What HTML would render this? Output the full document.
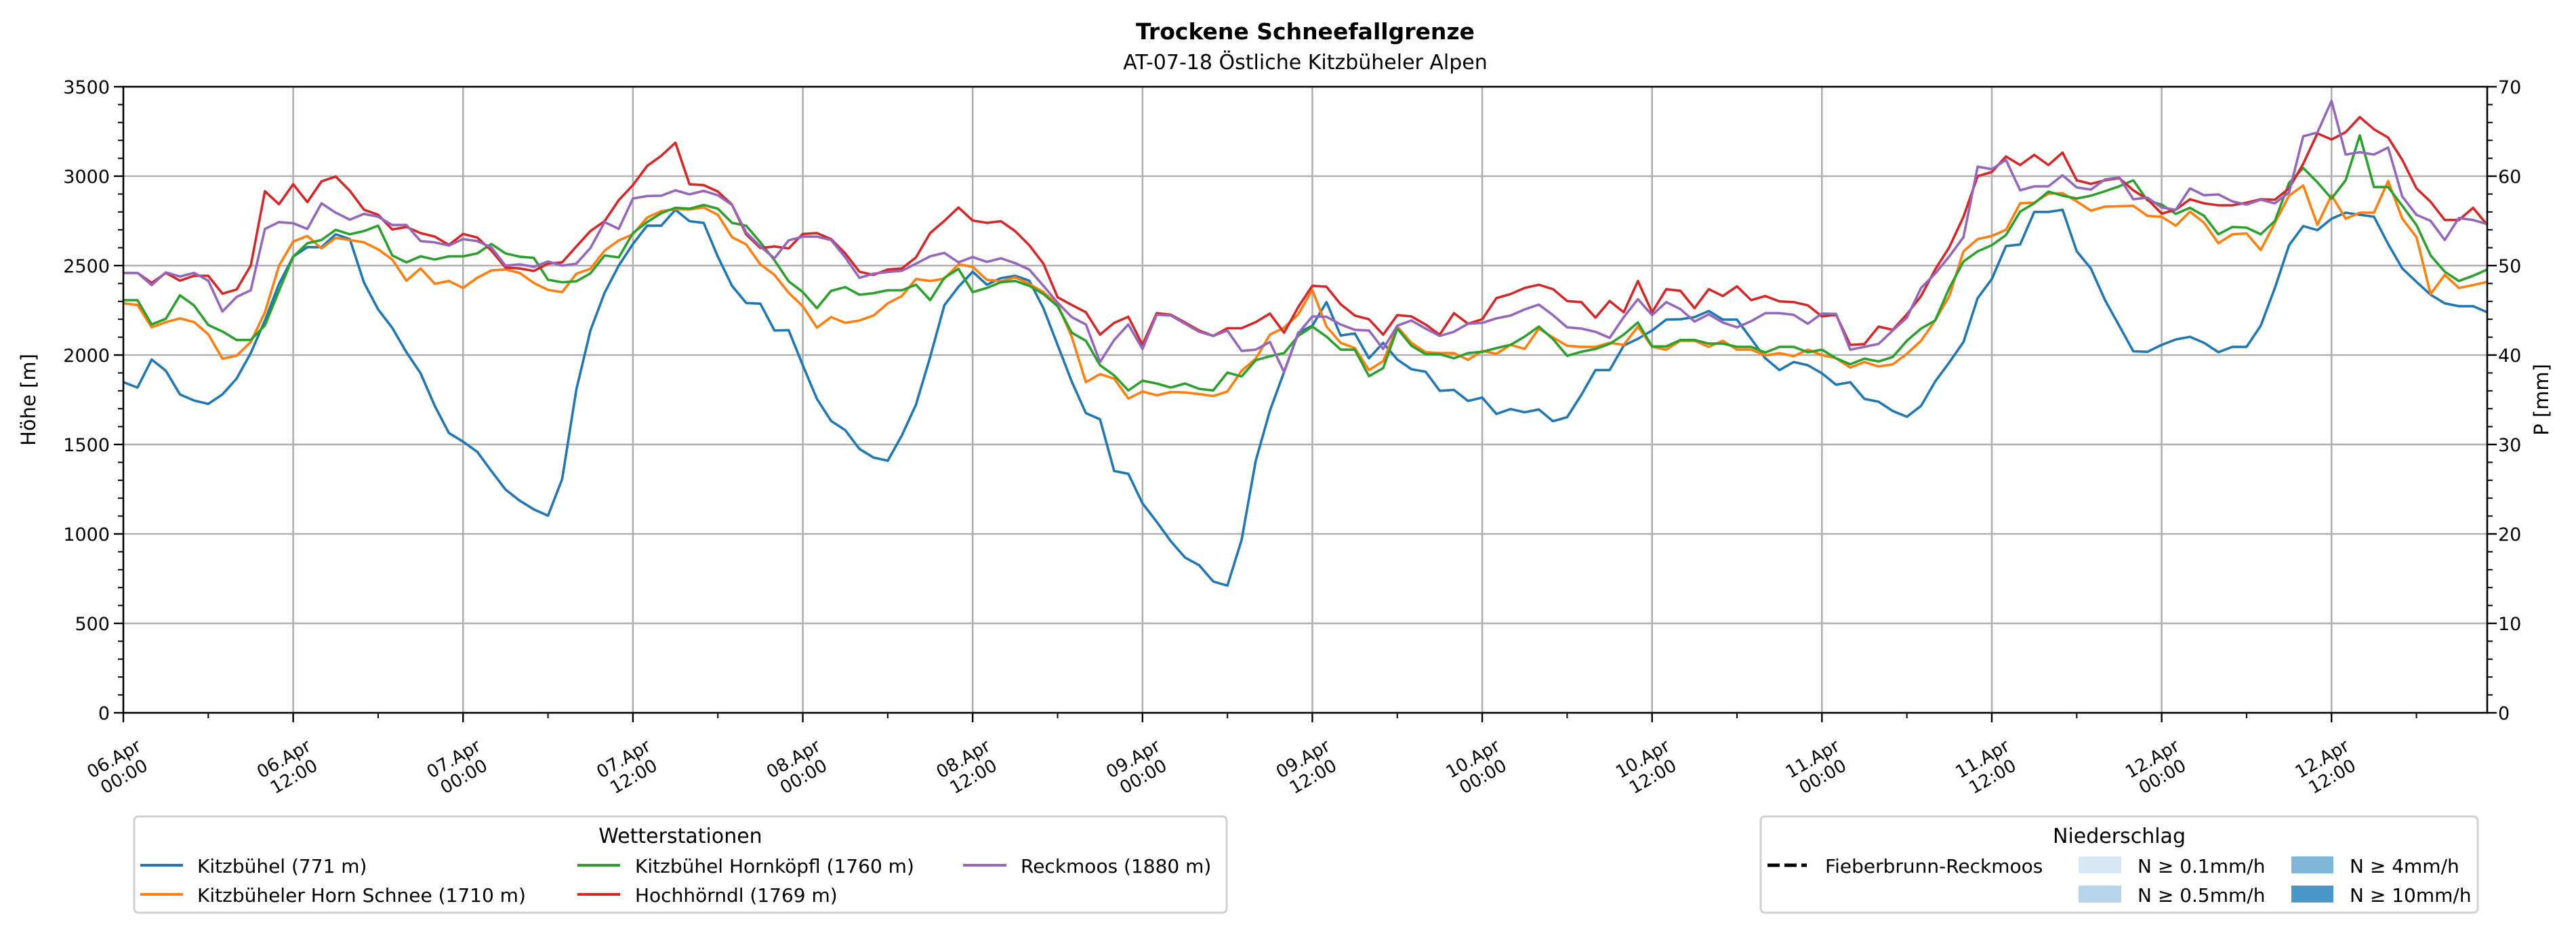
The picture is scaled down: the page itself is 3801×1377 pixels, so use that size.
<!DOCTYPE html>
<html><head><meta charset="utf-8"><style>
html,body{margin:0;padding:0;background:#fff;}
svg{display:block;font-family:"DejaVu Sans","Liberation Sans",sans-serif;}
</style></head><body>
<svg id="chart" width="3801" height="1377" viewBox="0 0 3801 1377" xmlns="http://www.w3.org/2000/svg">
<rect x="0" y="0" width="3801" height="1377" fill="#fff"/>
<text x="1926" y="58" text-anchor="middle" font-size="33" font-weight="bold">Trockene Schneefallgrenze</text>
<text x="1926" y="102" text-anchor="middle" font-size="30">AT-07-18 Östliche Kitzbüheler Alpen</text>
<g id="grid"></g>
<g id="series"></g>
<g id="axes"></g>
<text transform="translate(52,590) rotate(-90)" text-anchor="middle" font-size="29">Höhe [m]</text>
<text transform="translate(3760,590) rotate(-90)" text-anchor="middle" font-size="29">P [mm]</text>

<g>
<rect x="198" y="1205" width="1612" height="142" rx="6" fill="#fff" stroke="#d0d0d0" stroke-width="3"/>
<text x="1004" y="1244" text-anchor="middle" font-size="30">Wetterstationen</text>
<g><line x1="207" y1="1277" x2="270" y2="1277" stroke="#1f77b4" stroke-width="4"/><text x="291" y="1288" font-size="28">Kitzbühel (771 m)</text></g>
<g><line x1="207" y1="1320" x2="270" y2="1320" stroke="#ff7f0e" stroke-width="4"/><text x="291" y="1331" font-size="28">Kitzbüheler Horn Schnee (1710 m)</text></g>
<g><line x1="852" y1="1277" x2="915" y2="1277" stroke="#2ca02c" stroke-width="4"/><text x="937" y="1288" font-size="28">Kitzbühel Hornköpfl (1760 m)</text></g>
<g><line x1="852" y1="1320" x2="915" y2="1320" stroke="#d62728" stroke-width="4"/><text x="937" y="1331" font-size="28">Hochhörndl (1769 m)</text></g>
<g><line x1="1421" y1="1277" x2="1485" y2="1277" stroke="#9467bd" stroke-width="4"/><text x="1506" y="1288" font-size="28">Reckmoos (1880 m)</text></g>
</g>

<g>
<rect x="2598" y="1205" width="1058" height="142" rx="6" fill="#fff" stroke="#d0d0d0" stroke-width="3"/>
<text x="3127" y="1244" text-anchor="middle" font-size="30">Niederschlag</text>
<g><line x1="2608" y1="1277" x2="2666" y2="1277" stroke="#000" stroke-width="5" stroke-dasharray="18,7"/><text x="2693" y="1288" font-size="28">Fieberbrunn-Reckmoos</text></g>
<g><rect x="3067" y="1264" width="63" height="25" fill="#d7e7f5"/><text x="3154" y="1288" font-size="28">N ≥ 0.1mm/h</text></g>
<g><rect x="3067" y="1307" width="63" height="25" fill="#b7d4ea"/><text x="3154" y="1331" font-size="28">N ≥ 0.5mm/h</text></g>
<g><rect x="3381" y="1264" width="62" height="25" fill="#7fb6d9"/><text x="3467" y="1288" font-size="28">N ≥ 4mm/h</text></g>
<g><rect x="3381" y="1307" width="62" height="25" fill="#4a98c9"/><text x="3467" y="1331" font-size="28">N ≥ 10mm/h</text></g>
</g>
</svg>
<script>
const seriesNames = ["Kitzbühel (771 m)","Kitzbüheler Horn Schnee (1710 m)","Kitzbühel Hornköpfl (1760 m)","Hochhörndl (1769 m)","Reckmoos (1880 m)"];
const seriesColors = ["#1f77b4","#ff7f0e","#2ca02c","#d62728","#9467bd"];
const xTickLabels = ["06.Apr\n00:00","06.Apr\n12:00","07.Apr\n00:00","07.Apr\n12:00","08.Apr\n00:00","08.Apr\n12:00","09.Apr\n00:00","09.Apr\n12:00","10.Apr\n00:00","10.Apr\n12:00","11.Apr\n00:00","11.Apr\n12:00","12.Apr\n00:00","12.Apr\n12:00"];
const yTicks = [0,500,1000,1500,2000,2500,3000,3500];
const y2Ticks = [0,10,20,30,40,50,60,70];
const kitzbuehel = [1848,1818,1975,1912,1780,1746,1727,1780,1868,2011,2193,2398,2550,2603,2603,2675,2648,2405,2255,2152,2016,1898,1716,1564,1516,1459,1352,1248,1186,1137,1102,1307,1807,2137,2348,2500,2621,2723,2723,2812,2748,2739,2550,2387,2291,2287,2137,2139,1943,1755,1632,1580,1475,1427,1409,1550,1723,1989,2278,2382,2466,2393,2430,2443,2416,2262,2057,1852,1675,1641,1352,1336,1171,1068,959,868,825,734,711,966,1409,1689,1905,2125,2164,2296,2109,2121,1982,2068,1975,1921,1907,1800,1805,1743,1762,1671,1698,1680,1696,1630,1653,1777,1916,1916,2053,2091,2137,2198,2200,2212,2246,2198,2198,2091,1982,1916,1961,1943,1898,1834,1848,1755,1739,1687,1655,1716,1852,1959,2073,2318,2425,2609,2618,2800,2800,2812,2580,2484,2307,2164,2021,2018,2057,2087,2102,2068,2016,2046,2046,2164,2375,2614,2721,2698,2762,2796,2784,2773,2621,2484,2409,2337,2289,2273,2273,2239];
const hornSchnee = [2289,2280,2155,2184,2205,2184,2116,1980,1996,2073,2239,2500,2634,2666,2596,2655,2643,2630,2591,2534,2416,2484,2398,2414,2375,2432,2473,2478,2459,2403,2364,2352,2455,2482,2584,2641,2675,2768,2805,2816,2814,2825,2784,2659,2618,2507,2448,2348,2273,2153,2212,2180,2193,2221,2289,2330,2425,2414,2427,2507,2493,2421,2412,2434,2398,2352,2284,2102,1848,1893,1868,1757,1796,1775,1793,1791,1782,1771,1796,1912,1980,2114,2153,2228,2364,2159,2068,2039,1916,1966,2159,2068,2016,2011,2011,1973,2023,2007,2057,2034,2148,2098,2052,2046,2046,2068,2057,2159,2046,2030,2080,2080,2046,2080,2030,2030,1998,2011,1993,2030,2000,1982,1930,1961,1936,1948,2007,2080,2193,2330,2580,2648,2666,2700,2848,2852,2902,2905,2859,2807,2830,2832,2834,2778,2773,2723,2802,2739,2625,2675,2680,2587,2739,2891,2948,2728,2893,2762,2796,2796,2973,2762,2659,2341,2448,2375,2391,2409];
const hornkoepfl = [2307,2307,2171,2203,2334,2277,2168,2132,2084,2084,2166,2359,2550,2625,2643,2700,2675,2693,2723,2557,2518,2552,2534,2552,2552,2568,2621,2568,2550,2543,2421,2407,2412,2457,2557,2546,2682,2743,2793,2823,2818,2839,2818,2739,2723,2630,2530,2412,2352,2262,2359,2380,2337,2346,2362,2362,2393,2307,2432,2482,2352,2375,2407,2414,2387,2341,2273,2125,2080,1943,1886,1802,1857,1841,1818,1841,1811,1802,1902,1880,1971,1993,2011,2107,2159,2103,2030,2030,1882,1927,2148,2052,2005,2005,1982,2011,2018,2039,2057,2103,2159,2089,1996,2018,2034,2062,2114,2182,2048,2048,2084,2084,2064,2064,2046,2046,2014,2046,2046,2016,2030,1982,1948,1980,1964,1989,2080,2148,2193,2375,2523,2580,2614,2671,2802,2848,2914,2891,2875,2891,2916,2943,2977,2864,2841,2789,2823,2778,2675,2716,2712,2675,2750,2962,3046,2966,2875,2977,3228,2939,2939,2834,2727,2557,2466,2414,2443,2478];
const hochhoerndl = [2459,2459,2403,2459,2416,2443,2443,2343,2366,2500,2916,2843,2955,2855,2971,2998,2918,2812,2784,2702,2716,2682,2662,2616,2677,2657,2584,2489,2484,2470,2511,2518,2607,2693,2748,2866,2950,3057,3114,3187,2955,2950,2914,2841,2675,2598,2607,2596,2677,2682,2648,2568,2466,2448,2478,2484,2546,2682,2750,2825,2752,2739,2748,2693,2614,2511,2323,2280,2239,2114,2180,2214,2057,2234,2225,2182,2137,2107,2150,2150,2184,2232,2125,2268,2387,2382,2284,2221,2200,2114,2223,2216,2171,2114,2234,2175,2200,2318,2341,2375,2393,2368,2302,2296,2209,2302,2239,2414,2239,2368,2359,2262,2368,2330,2384,2307,2330,2300,2296,2278,2216,2225,2057,2061,2159,2141,2228,2330,2478,2603,2773,3000,3023,3110,3062,3119,3062,3132,2977,2957,2977,2989,2921,2871,2791,2812,2871,2848,2837,2837,2852,2871,2868,2932,3069,3239,3205,3246,3330,3262,3216,3091,2932,2857,2755,2755,2823,2728];
const reckmoos = [2459,2459,2391,2462,2439,2459,2416,2243,2325,2362,2705,2743,2737,2705,2848,2796,2757,2789,2773,2727,2727,2637,2630,2612,2648,2637,2602,2500,2507,2493,2523,2500,2511,2598,2743,2705,2875,2889,2891,2921,2898,2918,2893,2839,2686,2607,2541,2641,2662,2662,2643,2546,2432,2455,2464,2471,2511,2552,2571,2518,2548,2521,2541,2514,2478,2387,2293,2212,2171,1961,2084,2171,2034,2225,2221,2175,2130,2107,2137,2023,2030,2073,1905,2121,2216,2214,2171,2141,2137,2034,2164,2193,2148,2107,2130,2175,2180,2205,2221,2255,2282,2223,2155,2148,2130,2096,2212,2312,2223,2296,2257,2187,2228,2182,2155,2189,2234,2234,2225,2175,2232,2230,2030,2046,2062,2137,2209,2375,2455,2552,2659,3053,3039,3091,2921,2943,2943,3005,2937,2925,2982,2993,2871,2880,2825,2812,2932,2893,2898,2859,2841,2868,2848,2909,3223,3244,3421,3121,3134,3121,3160,2886,2784,2750,2643,2766,2755,2732];
const allSeries = [kitzbuehel,hornSchnee,hornkoepfl,hochhoerndl,reckmoos];

const NS="http://www.w3.org/2000/svg";
const L=182,R=3670,T=128,B=1052,yMax=3500,y2Max=70;
const nHours = kitzbuehel.length;
const xScale = h => L + h*(R-L)/(nHours-1);
const yScale = v => B - v*(B-T)/yMax;
const y2Scale = v => B - v*(B-T)/y2Max;
function mk(tag,attrs,parent){const e=document.createElementNS(NS,tag);for(const k in attrs)e.setAttribute(k,attrs[k]);parent.appendChild(e);return e;}
const grid=document.getElementById('grid'),axes=document.getElementById('axes'),ser=document.getElementById('series');
yTicks.forEach(v=>{
  const y=yScale(v);
  if(v>0&&v<yMax){const g=mk('line',{x1:L,x2:R,y1:y,y2:y,stroke:'#b0b0b0','stroke-width':2.6},grid);
  
  }
  mk('line',{x1:L-14,x2:L,y1:y,y2:y,stroke:'#000','stroke-width':2.4},axes);
  const t=mk('text',{x:L-20,y:y+10,'text-anchor':'end','font-size':27},axes);t.textContent=v;
  
  
});
for(let v=0;v<=yMax;v+=100){if(v%500)mk('line',{x1:L-8,x2:L,y1:yScale(v),y2:yScale(v),stroke:'#000','stroke-width':2},axes);}
y2Ticks.forEach(v=>{
  const y=y2Scale(v);
  mk('line',{x1:R,x2:R+14,y1:y,y2:y,stroke:'#000','stroke-width':2.4},axes);
  const t=mk('text',{x:R+16,y:y+10,'font-size':27},axes);t.textContent=v;
  
  
});
for(let v=0;v<=y2Max;v+=2){if(v%10)mk('line',{x1:R,x2:R+8,y1:y2Scale(v),y2:y2Scale(v),stroke:'#000','stroke-width':2},axes);}
xTickLabels.forEach((lab,i)=>{
  const x=xScale(i*12);
  if(i>0){const g=mk('line',{x1:x,x2:x,y1:T,y2:B,stroke:'#b0b0b0','stroke-width':2.6},grid);
  
  }
  mk('line',{x1:x,x2:x,y1:B,y2:B+14,stroke:'#000','stroke-width':2.4},axes);
  const t=mk('text',{transform:`translate(${x-7},1132) rotate(-30)`,'text-anchor':'middle','font-size':26},axes);
  
  
  lab.split('\n').forEach((ln,j)=>{const s=mk('tspan',{x:0,y:j===0?-5:25},t);s.textContent=ln;});
});
for(let h=6;h<nHours;h+=12){const x=xScale(h);mk('line',{x1:x,x2:x,y1:B,y2:B+8,stroke:'#000','stroke-width':2},axes);}
const frame=mk('rect',{x:L,y:T,width:R-L,height:B-T,fill:'none',stroke:'#000','stroke-width':2.6},axes);


const lineNames=['line-kitzbuehel','line-horn-schnee','line-hornkoepfl','line-hochhoerndl','line-reckmoos'];
allSeries.forEach((d,si)=>{
  const pts=d.map((v,h)=>xScale(h).toFixed(1)+','+yScale(v).toFixed(1)).join(' ');
  const p=mk('polyline',{points:pts,fill:'none',stroke:seriesColors[si],'stroke-width':3.6,'stroke-linejoin':'round'},ser);
  
  
});
</script>
</body></html>
